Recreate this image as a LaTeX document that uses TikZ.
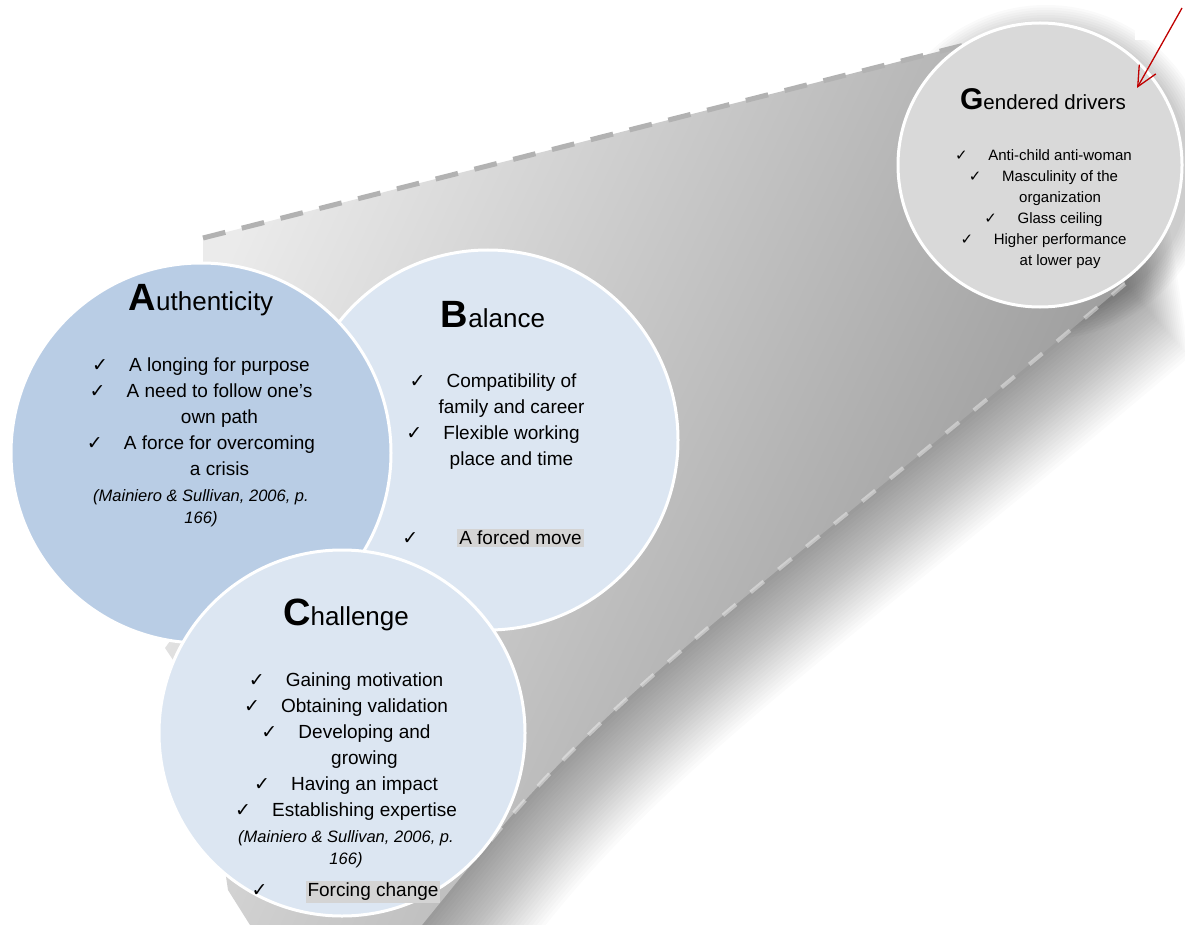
\documentclass[tikz,border=0pt]{standalone}
\usepackage{fontspec}
\setmainfont{Liberation Sans}
\newfontfamily\symfont{DejaVu Sans}
\usepackage{tikz}
\usetikzlibrary{arrows.meta, positioning}
\usepackage{xcolor}

\definecolor{authblue}{HTML}{B9CDE5}
\definecolor{paleblue}{HTML}{DCE6F2}
\definecolor{drivergray}{HTML}{D9D9D9}
\definecolor{markgray}{HTML}{D4D4D4}
\definecolor{linkred}{HTML}{C00000}

\newcommand{\chk}[1][37pt]{\makebox[#1][l]{\symfont ✓}}
\newcommand{\indentline}[1][37pt]{\hspace*{#1}}
\newcommand{\marked}[1]{{\setlength{\fboxsep}{2pt}\colorbox{markgray}{#1}}}
\newcommand{\srcfont}{\fontsize{16.5}{23}\selectfont\itshape}
\newcommand{\initial}[4]{{\fontsize{#1}{#1}\selectfont\bfseries #3}{\fontsize{#2}{#2}\selectfont #4}}
\newcommand{\coneoutline}{(203,300) -- (203,238) -- (1000,36) -- (1100,120) -- (1125,284)
	.. controls (800,560) and (620,680) .. (487,845) -- (422,925) -- (250,925) -- (228,890)
	-- (200,700) -- (165,648) -- (200,600) -- cycle}

\tikzset{%
	every bubble/.style={
		circle,
		draw=white,
		line width=3pt,
		inner sep=0pt
	},
	bubble title/.style={anchor=base, inner sep=0pt},
	bubble text/.style={
		anchor=north,
		align=center,
		inner sep=0pt,
		font=\fontsize{19}{26}\selectfont
	},
}

\begin{document}
\begin{tikzpicture}[x=1pt, y=-1pt]
	\useasboundingbox (0,0) rectangle (1185,925);
	\clip (0,0) rectangle (1185,925);
	\fill[white] (0,0) rectangle (1185,925);

	% soft shadow under the zoom cone and the small circle
	\foreach \k in {1,...,28}
		\fill[black, opacity=0.016, shift={(2.3*\k,2.6*\k)}] \coneoutline;
	\foreach \k in {1,...,10}
		\fill[black, opacity=0.018] (1046,172) circle[radius=142+2.5*\k];

	% zoom cone
	\shade[top color=black!8, bottom color=black!42, shading angle=65] \coneoutline;
	\draw[black!30, line width=5pt, dash pattern=on 23pt off 17pt] (203,238) -- (1000,36);
	\draw[white, opacity=0.4, line width=4pt, dash pattern=on 17pt off 19pt]
		(1125,284) .. controls (800,560) and (620,680) .. (487,845);
	\fill[white] (1135,0) rectangle (1185,40);

	% circles
	\node[every bubble, fill=drivergray, minimum size=284pt] (gendered) at (1040,165) {};
	\node[every bubble, fill=paleblue, minimum size=380pt] (balance) at (488,440) {};
	\node[every bubble, fill=authblue, minimum size=380pt] (authenticity) at (201,453) {};
	\node[every bubble, fill=paleblue, minimum size=366pt] (challenge) at (342,733) {};

	% titles
	\node[bubble title] (atitle) at (201,310) {\initial{38}{26}{A}{uthenticity}};
	\node[bubble title] (btitle) at (493,327) {\initial{38}{26}{B}{alance}};
	\node[bubble title] (ctitle) at (346,625) {\initial{38}{26}{C}{hallenge}};
	\node[bubble title] (gtitle) at (1043,110) {\initial{30}{20.5}{G}{endered drivers}};

	% lists
	\node[bubble text] (atext) at (201,358) {%
		\chk A longing for purpose\\
		\chk A need to follow one’s\\
		\indentline own path\\
		\chk A force for overcoming\\
		\indentline a crisis\\
		{\srcfont (Mainiero \& Sullivan, 2006, p.}\\[-4pt]
		{\srcfont 166)}};
	\node[bubble text] (btext) at (493,374) {%
		\chk Compatibility of\\
		\indentline family and career\\
		\chk Flexible working\\
		\indentline place and time\\[53pt]
		\chk[55pt]\marked{A forced move}};
	\node[bubble text] (ctext) at (346,673) {%
		\chk Gaining motivation\\
		\chk Obtaining validation\\
		\chk Developing and\\
		\indentline growing\\
		\chk Having an impact\\
		\chk Establishing expertise\\
		{\srcfont (Mainiero \& Sullivan, 2006, p.}\\[-4pt]
		{\srcfont 166)}\\[6pt]
		\chk[54pt]\marked{Forcing change}};
	\node[bubble text, font=\fontsize{15}{21}\selectfont] (gtext) at (1043.5,149) {%
		\chk[29pt] Anti-child anti-woman\\
		\chk[29pt] Masculinity of the\\
		\indentline[29pt] organization\\
		\chk[29pt] Glass ceiling\\
		\chk[29pt] Higher performance\\
		\indentline[29pt] at lower pay};

	% pointer
	\coordinate (arrowtail) at (1182,8);
	\coordinate (arrowtip) at (1137,88);
	\draw[linkred, line width=1.3pt, -{Straight Barb[length=20pt, width=19pt]}] (arrowtail) -- (arrowtip);
\end{tikzpicture}
\end{document}
